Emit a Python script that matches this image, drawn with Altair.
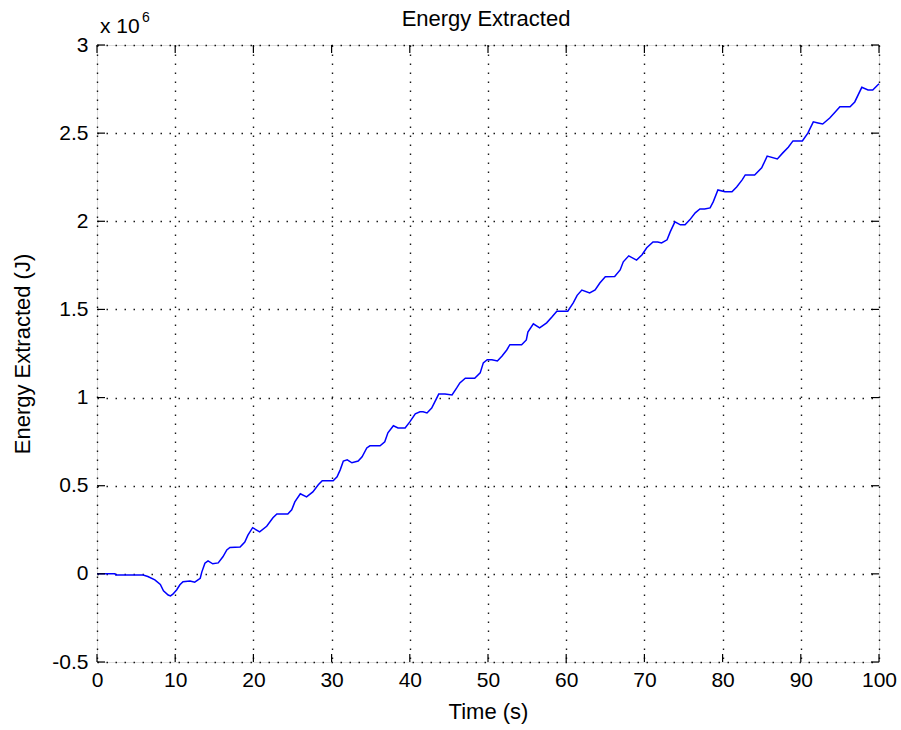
import altair as alt
import pandas as pd

# Time (s) and extracted energy (in units of 1e6 J)
time_s = [
    0, 2.3, 2.4, 5.9, 6.5, 7.4, 8.1, 8.5, 9.1, 9.4, 9.7, 10.2, 10.6, 11.0, 11.9,
    12.5, 13.2, 13.4, 13.8, 14.2, 14.8, 15.5, 16.1, 16.6, 17.0, 18.3, 18.9, 19.3,
    19.9, 20.8, 21.7, 22.5, 23.0, 24.4, 24.9, 25.3, 26.0, 26.8, 27.6, 28.3, 28.8,
    30.2, 30.7, 31.1, 31.5, 32.0, 32.6, 33.4, 33.9, 34.5, 34.9, 36.2, 36.8, 37.2,
    37.9, 38.5, 39.4, 40.0, 40.7, 41.3, 41.7, 42.2, 42.8, 43.2, 43.7, 44.5, 45.4,
    46.0, 46.4, 47.1, 48.3, 49.0, 49.4, 49.9, 50.5, 51.2, 51.8, 52.4, 52.8, 54.3,
    54.9, 55.1, 55.8, 56.6, 57.5, 58.2, 58.8, 60.2, 60.9, 61.4, 62.0, 63.0, 63.7,
    64.3, 65.0, 66.2, 66.9, 67.3, 68.0, 69.0, 69.7, 70.3, 71.1, 71.7, 72.2, 72.9,
    73.3, 73.9, 74.6, 75.2, 75.8, 76.5, 77.1, 77.7, 78.4, 78.8, 79.4, 80.3, 81.2,
    81.8, 82.5, 82.9, 84.1, 85.0, 85.7, 87.0, 87.7, 88.4, 89.0, 90.2, 90.9, 91.6,
    92.2, 92.8, 93.7, 94.4, 95.0, 96.3, 96.9, 97.8, 98.6, 99.2, 100,
]
energy_mj = [
    0, 0, -0.006, -0.006, -0.015, -0.034, -0.06, -0.096, -0.12, -0.125, -0.115,
    -0.09, -0.062, -0.045, -0.04, -0.047, -0.025, 0.01, 0.06, 0.074, 0.057, 0.062,
    0.097, 0.136, 0.15, 0.152, 0.18, 0.22, 0.262, 0.238, 0.27, 0.318, 0.34, 0.34,
    0.363, 0.408, 0.454, 0.437, 0.465, 0.505, 0.528, 0.528, 0.55, 0.59, 0.64,
    0.647, 0.63, 0.64, 0.664, 0.714, 0.726, 0.726, 0.749, 0.80, 0.84, 0.828,
    0.828, 0.862, 0.908, 0.919, 0.919, 0.913, 0.94, 0.976, 1.02, 1.02, 1.015,
    1.055, 1.083, 1.11, 1.11, 1.14, 1.197, 1.215, 1.214, 1.208, 1.236, 1.27,
    1.30, 1.30, 1.327, 1.372, 1.418, 1.395, 1.424, 1.458, 1.49, 1.49, 1.537,
    1.58, 1.61, 1.594, 1.61, 1.65, 1.685, 1.687, 1.724, 1.77, 1.804, 1.78, 1.81,
    1.85, 1.883, 1.883, 1.877, 1.895, 1.94, 1.997, 1.98, 1.98, 2.008, 2.048,
    2.07, 2.07, 2.076, 2.11, 2.178, 2.167, 2.167, 2.195, 2.235, 2.263, 2.263,
    2.303, 2.37, 2.354, 2.388, 2.42, 2.456, 2.456, 2.50, 2.564, 2.558, 2.552,
    2.586, 2.62, 2.65, 2.65, 2.677, 2.76, 2.745, 2.745, 2.78,
]

x_ticks = [0, 10, 20, 30, 40, 50, 60, 70, 80, 90, 100]
y_ticks = [-0.5, 0, 0.5, 1, 1.5, 2, 2.5, 3]

W, H = 782, 617
FONT = "Liberation Sans"
TICK_LEN = 8

df = pd.DataFrame({"t": time_s, "E": energy_mj})
xt = pd.DataFrame({"t": x_ticks})
yt = pd.DataFrame({"E": y_ticks})

x_scale = alt.Scale(domain=[0, 100], nice=False, zero=False)
y_scale = alt.Scale(domain=[-0.5, 3], nice=False, zero=False)

axis_style = dict(
    grid=True, gridColor="#000000", gridDash=[1.5, 7.5], gridWidth=1.4,
    gridOpacity=0.9, ticks=False, domain=False,
    labelFont=FONT, labelFontSize=21, labelColor="#000000",
    labelFlush=False, labelOverlap=False,
    titleFont=FONT, titleFontSize=22, titleFontWeight="normal",
    titleColor="#000000", labelExpr="'' + datum.value",
)
x_axis = alt.Axis(values=x_ticks, title="Time (s)", labelPadding=7,
                  titlePadding=11, **axis_style)
y_axis = alt.Axis(values=y_ticks, title="Energy Extracted (J)",
                  labelPadding=9, titlePadding=17, **axis_style)

X = alt.X("t:Q", scale=x_scale, axis=x_axis)
Y = alt.Y("E:Q", scale=y_scale, axis=y_axis)

line = alt.Chart(df).mark_line(color="#0000ff", strokeWidth=1.5).encode(x=X, y=Y)

# inward tick marks on all four sides of the box
tick_style = dict(color="#000000", strokeWidth=1.2)
x_bottom = alt.Chart(xt).mark_rule(**tick_style).encode(
    x=X, y=alt.value(H), y2=alt.value(H - TICK_LEN))
x_top = alt.Chart(xt).mark_rule(**tick_style).encode(
    x=X, y=alt.value(0), y2=alt.value(TICK_LEN))
y_left = alt.Chart(yt).mark_rule(**tick_style).encode(
    y=Y, x=alt.value(0), x2=alt.value(TICK_LEN))
y_right = alt.Chart(yt).mark_rule(**tick_style).encode(
    y=Y, x=alt.value(W - TICK_LEN), x2=alt.value(W))

# chart title and exponent label above the box
title_txt = alt.Chart(pd.DataFrame({"s": ["Energy Extracted"]})).mark_text(
    font=FONT, fontSize=22, align="center", baseline="alphabetic", color="#000000"
).encode(text="s:N", x=alt.value(W / 2 - 2), y=alt.value(-19))
exp_base = alt.Chart(pd.DataFrame({"s": ["x 10"]})).mark_text(
    font=FONT, fontSize=21, align="left", baseline="alphabetic", color="#000000"
).encode(text="s:N", x=alt.value(3), y=alt.value(-12))
exp_pow = alt.Chart(pd.DataFrame({"s": ["6"]})).mark_text(
    font=FONT, fontSize=14, align="left", baseline="alphabetic", color="#000000"
).encode(text="s:N", x=alt.value(45), y=alt.value(-23))

chart = alt.layer(
    line, x_bottom, x_top, y_left, y_right, title_txt, exp_base, exp_pow
).properties(
    width=W, height=H,
    autosize=alt.AutoSizeParams(type="none"),
    padding={"left": 97, "top": 45, "right": 22, "bottom": 68},
).configure_view(stroke="#000000", strokeWidth=1.2).configure(background="#ffffff")

chart.save("out.html", embed_options={"renderer": "svg", "actions": False})
